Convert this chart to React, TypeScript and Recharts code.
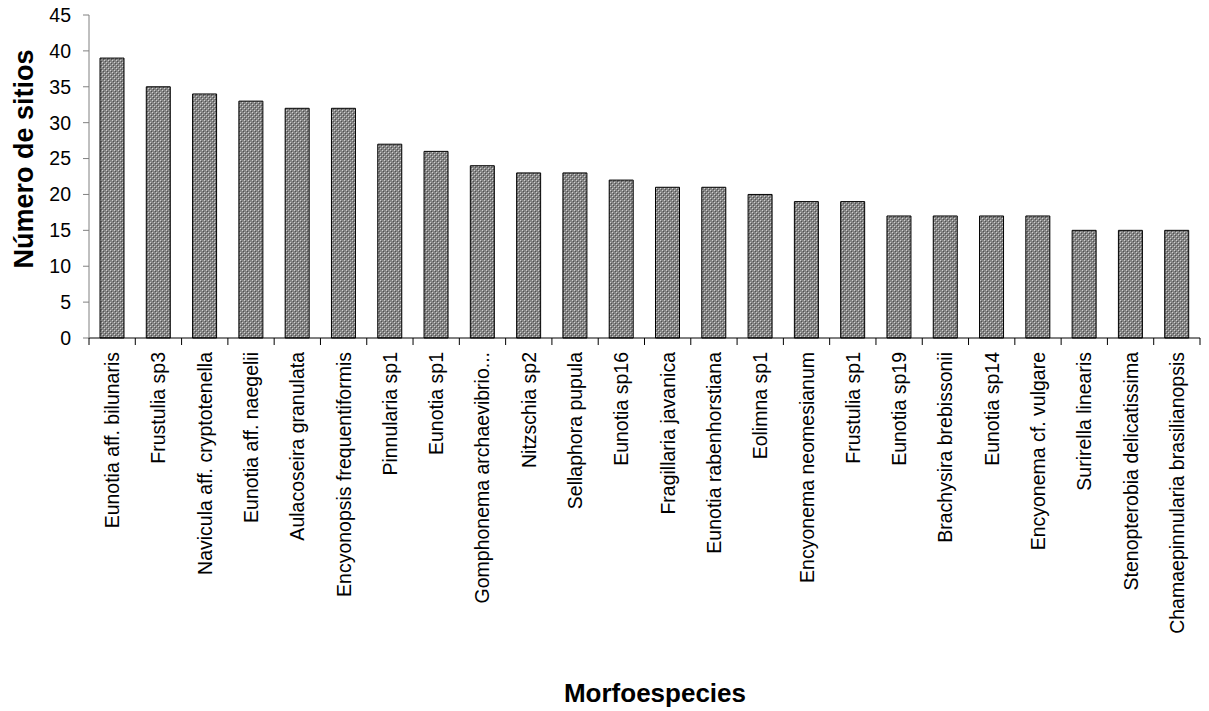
import { BarChart, Bar, XAxis, YAxis, Label } from 'recharts';

const species = [
  'Eunotia aff. bilunaris',
  'Frustulia sp3',
  'Navicula aff. cryptotenella',
  'Eunotia aff. naegelii',
  'Aulacoseira granulata',
  'Encyonopsis frequentiformis',
  'Pinnularia sp1',
  'Eunotia sp1',
  'Gomphonema archaevibrio...',
  'Nitzschia sp2',
  'Sellaphora pupula',
  'Eunotia sp16',
  'Fragillaria javanica',
  'Eunotia rabenhorstiana',
  'Eolimna sp1',
  'Encyonema neomesianum',
  'Frustulia sp1',
  'Eunotia sp19',
  'Brachysira brebissonii',
  'Eunotia sp14',
  'Encyonema cf. vulgare',
  'Surirella linearis',
  'Stenopterobia delicatissima',
  'Chamaepinnularia brasilianopsis',
];

const sites = [39, 35, 34, 33, 32, 32, 27, 26, 24, 23, 23, 22, 21, 21, 20, 19, 19, 17, 17, 17, 17, 15, 15, 15];

const yTicks = [0, 5, 10, 15, 20, 25, 30, 35, 40, 45];

const data = species.map((name, i) => ({ name, value: sites[i] }));

const font = 'Arial, "Liberation Sans", sans-serif';
const band = (1200 - 89) / species.length;

const SpeciesTick = (props: any) => {
  const { x, y, payload, index } = props;
  return (
    <g>
      <line x1={x - band / 2} x2={x - band / 2} y1={y - 8} y2={y - 1} stroke="#000" />
      {index === species.length - 1 && (
        <line x1={x + band / 2} x2={x + band / 2} y1={y - 8} y2={y - 1} stroke="#000" />
      )}
      <text
        transform={`translate(${x + 7},${y + 6}) rotate(-90)`}
        textAnchor="end"
        fontSize={19.5}
        fontFamily={font}
        fill="#000"
      >
        {payload.value}
      </text>
    </g>
  );
};

export default function App() {
  return (
    <div style={{ position: 'absolute', left: 0, top: 0, width: 1209, height: 711, background: '#fff' }}>
      <BarChart
        width={1209}
        height={711}
        data={data}
        margin={{ top: 15, right: 9, left: 0, bottom: 0 }}
        barSize={24}
      >
        <defs>
          <pattern id="dots" width="4" height="4" patternUnits="userSpaceOnUse">
            <rect width="4" height="4" fill="#858585" />
            <rect x="0" y="0" width="1" height="1" fill="#d0d0d0" />
            <rect x="2" y="2" width="1" height="1" fill="#d0d0d0" />
            <rect x="1" y="1" width="1" height="1" fill="#505050" />
            <rect x="3" y="3" width="1" height="1" fill="#505050" />
          </pattern>
        </defs>
        <XAxis
          dataKey="name"
          interval={0}
          height={373}
          axisLine={{ stroke: '#000' }}
          tickLine={false}
          tick={<SpeciesTick />}
        >
          <Label
            content={() => (
              <text
                x={655}
                y={702}
                textAnchor="middle"
                fontFamily={font}
                fontSize={26}
                fontWeight="bold"
                fill="#000"
              >
                Morfoespecies
              </text>
            )}
          />
        </XAxis>
        <YAxis
          width={89}
          domain={[0, 45]}
          ticks={yTicks}
          interval={0}
          axisLine={{ stroke: '#808080' }}
          tickLine={{ stroke: '#808080' }}
          tickSize={6}
          tickMargin={12}
          tick={{ fontFamily: font, fontSize: 19.5, fill: '#000' }}
        >
          <Label
            content={() => (
              <text
                transform="translate(33,159) rotate(-90)"
                textAnchor="middle"
                fontFamily={font}
                fontSize={27}
                fontWeight="bold"
                fill="#000"
              >
                Número de sitios
              </text>
            )}
          />
        </YAxis>
        <Bar dataKey="value" fill="url(#dots)" stroke="#000" strokeWidth={1} isAnimationActive={false} />
      </BarChart>
    </div>
  );
}
